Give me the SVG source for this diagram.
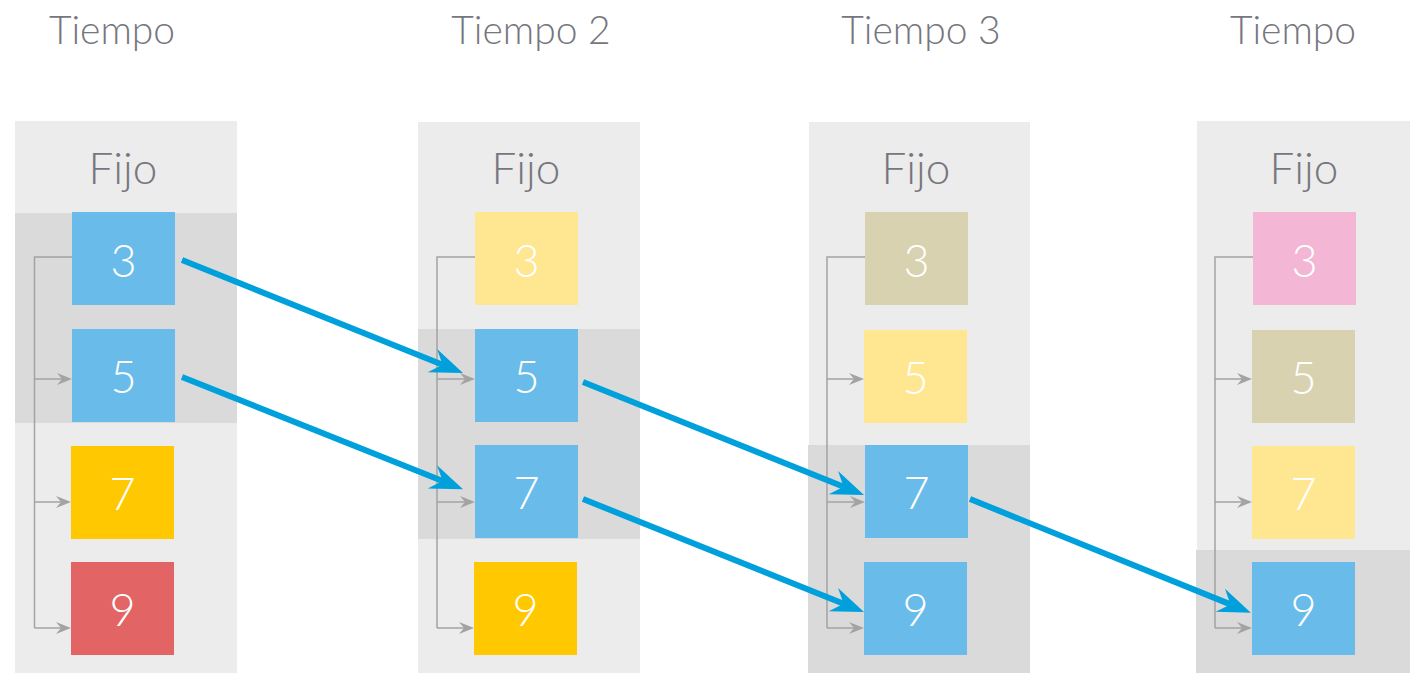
<svg xmlns="http://www.w3.org/2000/svg" width="1410" height="673" viewBox="0 0 1410 673">
<defs>
<style>
.title{font-family:"Lato","Liberation Sans",Arial,sans-serif;font-weight:300;font-size:39px;fill:#76767e;text-anchor:middle}
.fijo{font-family:"Lato","Liberation Sans",Arial,sans-serif;font-weight:300;font-size:44px;fill:#76767e;text-anchor:middle}
.num{font-family:"Lato","Liberation Sans",Arial,sans-serif;font-weight:300;font-size:45px;fill:#ffffff;text-anchor:middle}
.bgl{fill:#ececec}
.bgd{fill:#dadada}
.blue{fill:#69bbea}
.yel{fill:#ffc800}
.red{fill:#e36464}
.lyel{fill:#ffe690}
.kha{fill:#d8d2b0}
.pink{fill:#f3b6d5}
.br{fill:none;stroke:#a3a3a3;stroke-width:1.5}
.ga{fill:none;stroke:#a3a3a3;stroke-width:1.5;marker-end:url(#gh)}
.ba{fill:none;stroke:#00a0dc;stroke-width:6;marker-end:url(#bh)}
</style>
<marker id="gh" markerUnits="userSpaceOnUse" viewBox="-16 -7 17 14" markerWidth="17" markerHeight="14" refX="-10" refY="0" orient="auto">
<path d="M0,0 L-15,-6 L-10,0 L-15,6 Z" fill="#a3a3a3"/>
</marker>
<marker id="bh" markerUnits="userSpaceOnUse" viewBox="-35 -14 37 28" markerWidth="37" markerHeight="28" refX="-22" refY="0" orient="auto">
<path d="M0,0 L-33,-12.5 L-22,0 L-33,12.5 Z" fill="#00a0dc"/>
</marker>
</defs>

<g id="titles">
<text class="title" x="112" y="44">Tiempo</text>
<text class="title" x="531" y="44">Tiempo 2</text>
<text class="title" x="921" y="44">Tiempo 3</text>
<text class="title" x="1293" y="44">Tiempo</text>
</g>

<g id="col1">
<rect class="bgl" x="15" y="121" width="222" height="552"/>
<rect class="bgd" x="15" y="213" width="222" height="210"/>
<text class="fijo" x="123" y="184">Fijo</text>
</g>
<g id="col2">
<rect class="bgl" x="418" y="122" width="222" height="551"/>
<rect class="bgd" x="418" y="329" width="222" height="210"/>
<text class="fijo" x="526" y="184">Fijo</text>
</g>
<g id="col3">
<rect class="bgl" x="809" y="122" width="221" height="551"/>
<rect class="bgd" x="808" y="445" width="222" height="228"/>
<text class="fijo" x="916" y="184">Fijo</text>
</g>
<g id="col4">
<rect class="bgl" x="1197" y="121" width="213" height="552"/>
<rect class="bgd" x="1196" y="550" width="214" height="123"/>
<text class="fijo" x="1304" y="184">Fijo</text>
</g>

<g id="brackets">
<path class="br" d="M72,257 H34.5 V628"/>
<path class="ga" d="M34.5,379 H62"/>
<path class="ga" d="M34.5,502 H61"/>
<path class="ga" d="M34.5,628 H61"/>
<path class="br" d="M475,257 H437 V628"/>
<path class="ga" d="M437,379 H465"/>
<path class="ga" d="M437,502 H465"/>
<path class="ga" d="M437,628 H464"/>
<path class="br" d="M865,257 H827 V628"/>
<path class="ga" d="M827,379 H854"/>
<path class="ga" d="M827,502 H855"/>
<path class="ga" d="M827,628 H854"/>
<path class="br" d="M1253,257 H1215 V628"/>
<path class="ga" d="M1215,379 H1242"/>
<path class="ga" d="M1215,502 H1242"/>
<path class="ga" d="M1215,628 H1242"/>
</g>

<g id="c1-3"><rect class="blue" x="72" y="212" width="103" height="93"/><text class="num" x="123.5" y="277">3</text></g>
<g id="c1-5"><rect class="blue" x="72" y="329" width="103" height="93"/><text class="num" x="123.5" y="393">5</text></g>
<g id="c1-7"><rect class="yel" x="71" y="446" width="103" height="93"/><text class="num" x="122.5" y="510">7</text></g>
<g id="c1-9"><rect class="red" x="71" y="562" width="103" height="93"/><text class="num" x="122.5" y="626">9</text></g>

<g id="c2-3"><rect class="lyel" x="475" y="212" width="103" height="93"/><text class="num" x="526.5" y="277">3</text></g>
<g id="c2-5"><rect class="blue" x="475" y="329" width="103" height="93"/><text class="num" x="526.5" y="393">5</text></g>
<g id="c2-7"><rect class="blue" x="475" y="445" width="103" height="93"/><text class="num" x="526.5" y="509">7</text></g>
<g id="c2-9"><rect class="yel" x="474" y="562" width="103" height="93"/><text class="num" x="525.5" y="626">9</text></g>

<g id="c3-3"><rect class="kha" x="865" y="212" width="103" height="93"/><text class="num" x="916.5" y="277">3</text></g>
<g id="c3-5"><rect class="lyel" x="864" y="330" width="103" height="93"/><text class="num" x="915.5" y="394">5</text></g>
<g id="c3-7"><rect class="blue" x="865" y="445" width="103" height="93"/><text class="num" x="916.5" y="509">7</text></g>
<g id="c3-9"><rect class="blue" x="864" y="562" width="103" height="93"/><text class="num" x="915.5" y="626">9</text></g>

<g id="c4-3"><rect class="pink" x="1253" y="212" width="103" height="93"/><text class="num" x="1304.5" y="277">3</text></g>
<g id="c4-5"><rect class="kha" x="1252" y="330" width="103" height="93"/><text class="num" x="1303.5" y="394">5</text></g>
<g id="c4-7"><rect class="lyel" x="1252" y="446" width="103" height="93"/><text class="num" x="1303.5" y="510">7</text></g>
<g id="c4-9"><rect class="blue" x="1252" y="562" width="103" height="93"/><text class="num" x="1303.5" y="626">9</text></g>

<g id="connectors">
<line class="ba" x1="182" y1="260" x2="442.6" y2="364.8"/>
<line class="ba" x1="182" y1="377" x2="442.6" y2="481"/>
<line class="ba" x1="583" y1="382" x2="843.6" y2="486.8"/>
<line class="ba" x1="583" y1="499" x2="843.6" y2="603.7"/>
<line class="ba" x1="970" y1="499" x2="1230.5" y2="604.4"/>
</g>
</svg>
